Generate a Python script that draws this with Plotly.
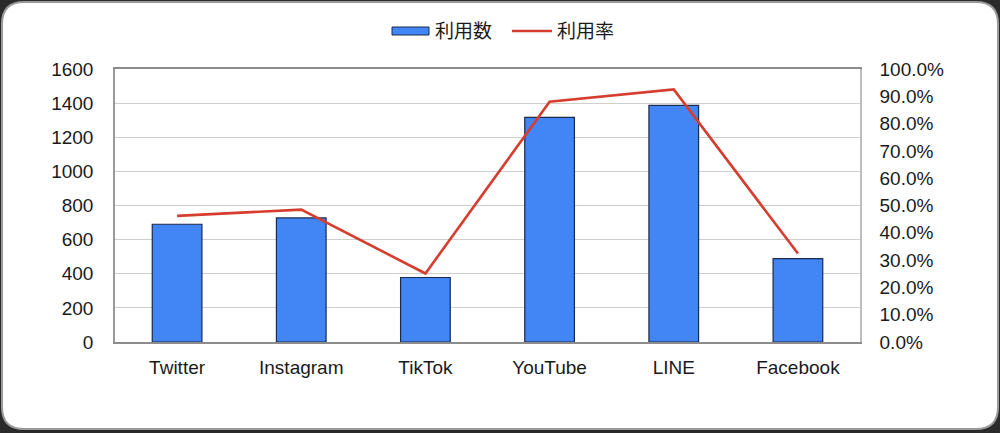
import plotly.graph_objects as go

# data
platforms = ["Twitter", "Instagram", "TikTok", "YouTube", "LINE", "Facebook"]
user_counts = [690, 727, 378, 1316, 1387, 489]
usage_rates = [0.462, 0.485, 0.251, 0.880, 0.925, 0.324]
count_name = "利用数"
rate_name = "利用率"
left_ticks = [0, 200, 400, 600, 800, 1000, 1200, 1400, 1600]
right_ticks = [0.0, 0.1, 0.2, 0.3, 0.4, 0.5, 0.6, 0.7, 0.8, 0.9, 1.0]

W, H = 1000, 433
L, R, T, B = 115, 140, 69, 91
PW, PH = W - L - R, H - T - B

BLUE = "#4285f4"
RED = "#d63d2e"
FONT = "Liberation Sans, Arial, Noto Sans CJK JP, sans-serif"


def px(x):
    # pixel -> paper x
    return (x - L) / PW


def py(y):
    # pixel -> paper y
    return 1 - (y - T) / PH


fig = go.Figure()

fig.add_trace(go.Bar(
    x=platforms,
    y=user_counts,
    name=count_name,
    marker=dict(color=BLUE, line=dict(color="#1b2a4e", width=1.2)),
    width=0.4,
    showlegend=False,
))

fig.add_trace(go.Scatter(
    x=platforms,
    y=usage_rates,
    name=rate_name,
    mode="lines",
    line=dict(color=RED, width=2.6),
    yaxis="y2",
    showlegend=False,
))

# rounded frame around the whole picture
x0, x1, y0, y1, rad = px(2), px(998), py(2), py(429), 22
rx, ry = rad / PW, rad / PH
frame = (f"M {x0+rx},{y0} L {x1-rx},{y0} Q {x1},{y0} {x1},{y0-ry} "
         f"L {x1},{y1+ry} Q {x1},{y1} {x1-rx},{y1} "
         f"L {x0+rx},{y1} Q {x0},{y1} {x0},{y1+ry} "
         f"L {x0},{y0-ry} Q {x0},{y0} {x0+rx},{y0} Z")

shapes = [
    dict(type="path", xref="paper", yref="paper", path=frame, layer="below",
         fillcolor="white", line=dict(color="#9a9a9a", width=2)),
    # custom legend swatches
    dict(type="rect", xref="paper", yref="paper",
         x0=px(392), x1=px(429), y0=py(35), y1=py(27),
         fillcolor=BLUE, line=dict(color="#1b2a4e", width=1)),
    dict(type="line", xref="paper", yref="paper",
         x0=px(512), x1=px(552), y0=py(31), y1=py(31),
         line=dict(color=RED, width=2.6)),
]

annotations = [
    dict(xref="paper", yref="paper", x=px(433), y=py(31), text=count_name,
         showarrow=False, xanchor="left", yanchor="middle",
         font=dict(size=19, color="#1a1a1a")),
    dict(xref="paper", yref="paper", x=px(555), y=py(31), text=rate_name,
         showarrow=False, xanchor="left", yanchor="middle",
         font=dict(size=19, color="#1a1a1a")),
]

fig.update_layout(
    width=W,
    height=H,
    margin=dict(l=L, r=R, t=T, b=B),
    paper_bgcolor="#2a2a2a",
    plot_bgcolor="white",
    font=dict(family=FONT, size=19, color="#1a1a1a"),
    shapes=shapes,
    annotations=annotations,
    bargap=0.6,
    xaxis=dict(
        showline=True, linecolor="#8c8c8c", linewidth=1.5, mirror=True,
        showgrid=False, ticks="outside", ticklen=7, tickcolor="rgba(0,0,0,0)",
    ),
    yaxis=dict(
        range=[0, 1600], tickvals=left_ticks,
        showgrid=True, gridcolor="#cfcfcf", gridwidth=1,
        showline=True, linecolor="#9a9a9a", linewidth=1.5,
        ticks="outside", ticklen=16, tickcolor="rgba(0,0,0,0)",
        zeroline=False,
    ),
    yaxis2=dict(
        range=[0, 1], tickvals=right_ticks, tickformat=".1%",
        overlaying="y", side="right", showgrid=False,
        showline=True, linecolor="#bdbdbd", linewidth=1.5,
        ticks="outside", ticklen=14, tickcolor="rgba(0,0,0,0)",
        zeroline=False,
    ),
)

# drop the page's default body margin so the figure fills the window
fig.write_html("out.html", config={"displayModeBar": False},
               post_script="document.body.style.margin='0';")
